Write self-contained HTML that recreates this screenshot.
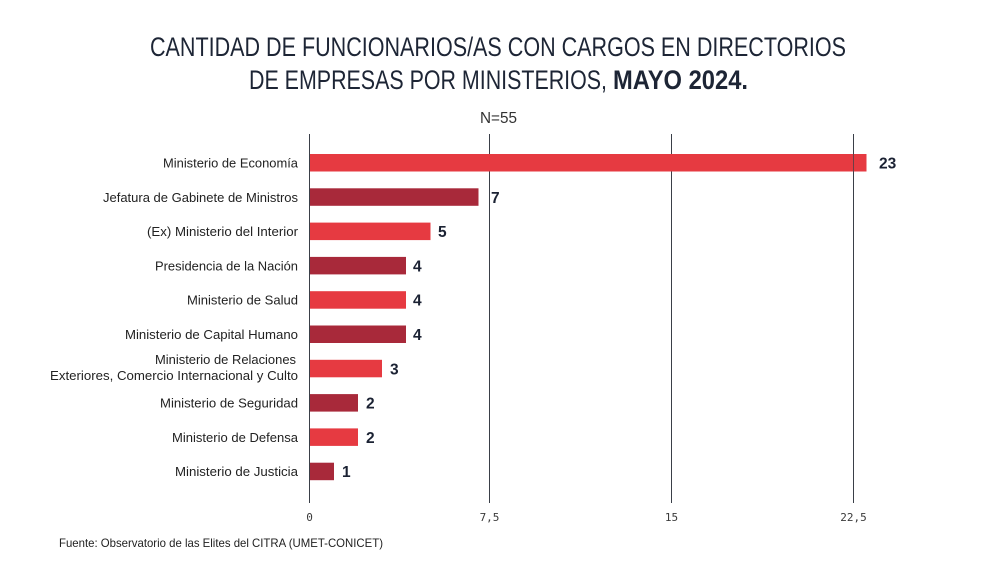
<!DOCTYPE html>
<html>
<head>
<meta charset="utf-8">
<style>
html,body{margin:0;padding:0;background:#fff;}
svg{display:block;}
</style>
</head>
<body>
<svg width="1000" height="563" viewBox="0 0 1000 563" xmlns="http://www.w3.org/2000/svg">
<rect width="1000" height="563" fill="#ffffff"/>
<!-- Title -->
<g font-family="Liberation Sans, sans-serif" fill="#1d2535">
<text x="150" y="56" font-size="27" textLength="696" lengthAdjust="spacingAndGlyphs">CANTIDAD DE FUNCIONARIOS/AS CON CARGOS EN DIRECTORIOS</text>
<text x="249" y="89" font-size="27" textLength="358" lengthAdjust="spacingAndGlyphs">DE EMPRESAS POR MINISTERIOS,</text>
<text x="613" y="89" font-size="27" font-weight="bold" textLength="135" lengthAdjust="spacingAndGlyphs">MAYO 2024.</text>
</g>
<text x="498.5" y="123" font-family="Liberation Sans, sans-serif" font-size="16" fill="#333" text-anchor="middle" textLength="37" lengthAdjust="spacingAndGlyphs">N=55</text>

<!-- gridlines -->
<g stroke="#3a3f48" stroke-width="1">
<line x1="309.5" y1="134" x2="309.5" y2="503"/>
<line x1="489.5" y1="134" x2="489.5" y2="503"/>
<line x1="671.5" y1="134" x2="671.5" y2="503"/>
<line x1="853.5" y1="134" x2="853.5" y2="503"/>
</g>

<!-- bars -->
<g>
<rect x="310" y="154" width="556.5" height="17.5" fill="#e63a41"/>
<rect x="310" y="188.3" width="168.5" height="17.5" fill="#a8293a"/>
<rect x="310" y="222.6" width="120.5" height="17.5" fill="#e63a41"/>
<rect x="310" y="256.9" width="96" height="17.5" fill="#a8293a"/>
<rect x="310" y="291.2" width="96" height="17.5" fill="#e63a41"/>
<rect x="310" y="325.5" width="96" height="17.5" fill="#a8293a"/>
<rect x="310" y="359.8" width="72" height="17.5" fill="#e63a41"/>
<rect x="310" y="394.1" width="48" height="17.5" fill="#a8293a"/>
<rect x="310" y="428.4" width="48" height="17.5" fill="#e63a41"/>
<rect x="310" y="462.7" width="24" height="17.5" fill="#a8293a"/>
</g>
<!-- gridline over the first bar -->
<line x1="853.5" y1="154" x2="853.5" y2="171.5" stroke="#3a3f48" stroke-width="1" opacity="0.7"/>

<!-- category labels -->
<g font-family="Liberation Sans, sans-serif" font-size="13" fill="#222" text-anchor="end">
<text x="298" y="167.5" textLength="135" lengthAdjust="spacingAndGlyphs">Ministerio de Economía</text>
<text x="298" y="201.8" textLength="195" lengthAdjust="spacingAndGlyphs">Jefatura de Gabinete de Ministros</text>
<text x="298" y="236.1" textLength="151" lengthAdjust="spacingAndGlyphs">(Ex) Ministerio del Interior</text>
<text x="298" y="270.4" textLength="143" lengthAdjust="spacingAndGlyphs">Presidencia de la Nación</text>
<text x="298" y="304.7" textLength="111" lengthAdjust="spacingAndGlyphs">Ministerio de Salud</text>
<text x="298" y="339" textLength="173" lengthAdjust="spacingAndGlyphs">Ministerio de Capital Humano</text>
<text x="296" y="364" textLength="141" lengthAdjust="spacingAndGlyphs">Ministerio de Relaciones</text>
<text x="298" y="380" textLength="248" lengthAdjust="spacingAndGlyphs">Exteriores, Comercio Internacional y Culto</text>
<text x="298" y="407.6" textLength="138" lengthAdjust="spacingAndGlyphs">Ministerio de Seguridad</text>
<text x="298" y="441.9" textLength="126" lengthAdjust="spacingAndGlyphs">Ministerio de Defensa</text>
<text x="298" y="476.2" textLength="123" lengthAdjust="spacingAndGlyphs">Ministerio de Justicia</text>
</g>

<!-- value labels -->
<g font-family="Liberation Sans, sans-serif" font-size="15.5" font-weight="bold" fill="#1b2233">
<text x="879" y="168.5">23</text>
<text x="491" y="202.8">7</text>
<text x="438" y="237.1">5</text>
<text x="413" y="271.4">4</text>
<text x="413" y="305.7">4</text>
<text x="413" y="340">4</text>
<text x="390" y="374.3">3</text>
<text x="366" y="408.6">2</text>
<text x="366" y="442.9">2</text>
<text x="342" y="477.2">1</text>
</g>

<!-- tick labels -->
<g font-family="DejaVu Sans Mono, Liberation Mono, monospace" font-size="11" fill="#3a3a3a" text-anchor="middle">
<text x="309.5" y="521">0</text>
<text x="489.5" y="521">7,5</text>
<text x="671.5" y="521">15</text>
<text x="853.5" y="521">22,5</text>
</g>

<!-- footer -->
<text x="59" y="547" font-family="Liberation Sans, sans-serif" font-size="12" fill="#222" textLength="324" lengthAdjust="spacingAndGlyphs">Fuente: Observatorio de las Elites del CITRA (UMET-CONICET)</text>
</svg>
</body>
</html>
